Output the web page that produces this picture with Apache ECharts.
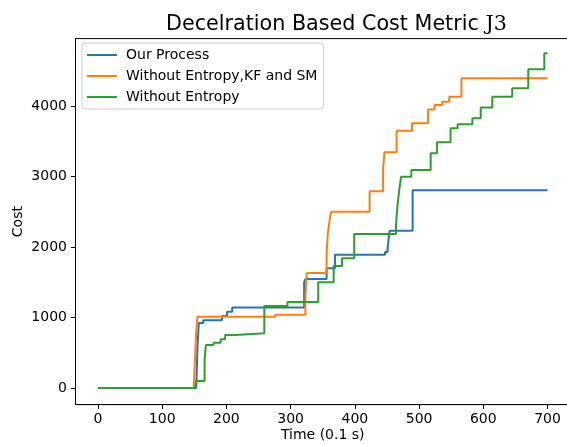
<!DOCTYPE html>
<html>
<head>
<meta charset="utf-8">
<script src="https://cdn.jsdelivr.net/npm/echarts@6/dist/echarts.min.js"></script>
<style>
	html, body { margin: 0; padding: 0; background: #fff; }
	#chart { width: 567px; height: 444px; }
</style>
</head>
<body>
<div id="chart"></div>
<script>
// [time, cost] where the cost steps to a new value
const ourProcess = [
	[0, 0], [153, 0], [155, 600], [157, 920], [164, 960], [193, 1020], [201, 1080], [209, 1140],
	[321, 1500], [323, 1545], [356, 1700], [369, 1890], [447, 1930], [451, 1980], [454, 2230],
	[490, 2805], [700, 2805]
]
const noEntropyKfSm = [
	[0, 0], [149, 0], [151, 400], [153, 800], [155, 1010], [276, 1040], [323, 1300], [325, 1630],
	[356, 1900], [358, 2200], [361, 2400], [363, 2500], [423, 2790], [444, 3100], [446, 3345],
	[465, 3650], [489, 3755], [514, 3950], [524, 4015], [536, 4060], [547, 4130], [566, 4393],
	[700, 4393]
]
const noEntropy = [
	[0, 0], [151, 0], [153, 100], [166, 400], [168, 610], [180, 643], [191, 690], [198, 752],
	[214, 776], [259, 1163], [295, 1220], [343, 1500], [367, 1730], [380, 1840], [399, 2184],
	[464, 2300], [466, 2550], [469, 2800], [472, 2997], [488, 3092], [518, 3330], [528, 3485],
	[549, 3684], [560, 3740], [583, 3825], [596, 3980], [614, 4132], [645, 4251], [670, 4521],
	[695, 4748], [700, 4748]
]
const xTicks = [0, 100, 200, 300, 400, 500, 600, 700]
const yTicks = [0, 1000, 2000, 3000, 4000]

const chart = echarts.init(document.getElementById('chart'))
const font = 'DejaVu Sans'

const axisCommon = {
	axisLine: { show: true, onZero: false, lineStyle: { color: '#000', width: 1 } },
	splitLine: { show: false },
	nameMoveOverlap: false,
	nameTextStyle: { fontFamily: font, fontSize: 14, color: '#000' }
}

const option = {
	animation: false,
	backgroundColor: '#fff',
	title: {
		text: '{a|Decelration Based Cost Metric }{b|J3}',
		left: 161,
		top: 9,
		textStyle: {
			fontWeight: 'normal',
			rich: {
				a: { fontFamily: font, fontSize: 20.7, fontWeight: 'normal', color: '#000' },
				b: { fontFamily: 'DejaVu Serif', fontSize: 20.7, fontWeight: 'normal', color: '#000' }
			}
		}
	},
	legend: {
		orient: 'vertical',
		left: 82,
		top: 43,
		padding: [4, 6, 4, 5],
		itemGap: 5,
		itemWidth: 30,
		itemHeight: 2,
		icon: 'rect',
		backgroundColor: 'rgba(255,255,255,0.8)',
		borderColor: '#cccccc',
		borderWidth: 1,
		borderRadius: 3,
		textStyle: { fontFamily: font, fontSize: 14, color: '#000', lineHeight: 16, padding: [0, 0, 0, 4] },
		data: ['Our Process', 'Without Entropy,KF and SM', 'Without Entropy']
	},
	grid: {
		left: 75.5,
		width: 494.5,
		top: 38.6,
		height: 366,
		containLabel: false,
		outerBoundsMode: 'none',
		show: true,
		borderColor: '#000',
		borderWidth: 1,
		backgroundColor: 'transparent'
	},
	xAxis: Object.assign({}, axisCommon, {
		type: 'value',
		min: -35,
		max: 735,
		name: 'Time (0.1 s)',
		nameLocation: 'middle',
		nameGap: 24,
		axisTick: { show: true, inside: false, length: 4.5, customValues: xTicks, lineStyle: { color: '#000' } },
		axisLabel: { customValues: xTicks, margin: 7.5, fontFamily: font, fontSize: 14, color: '#000', formatter: v => String(v) }
	}),
	yAxis: Object.assign({}, axisCommon, {
		type: 'value',
		min: -236,
		max: 4956,
		name: 'Cost',
		nameLocation: 'middle',
		nameGap: 50,
		axisTick: { show: true, inside: false, length: 4.5, customValues: yTicks, lineStyle: { color: '#000' } },
		axisLabel: { customValues: yTicks, margin: 8.5, fontFamily: font, fontSize: 14, color: '#000', formatter: v => String(v) }
	}),
	series: [
		{ name: 'Our Process', type: 'line', step: 'end', data: ourProcess, showSymbol: false, color: '#1f77b4', lineStyle: { width: 2 } },
		{ name: 'Without Entropy,KF and SM', type: 'line', step: 'end', data: noEntropyKfSm, showSymbol: false, color: '#ff7f0e', lineStyle: { width: 2 } },
		{ name: 'Without Entropy', type: 'line', step: 'end', data: noEntropy, showSymbol: false, color: '#2ca02c', lineStyle: { width: 2 } }
	]
}
chart.setOption(option)
</script>
</body>
</html>
